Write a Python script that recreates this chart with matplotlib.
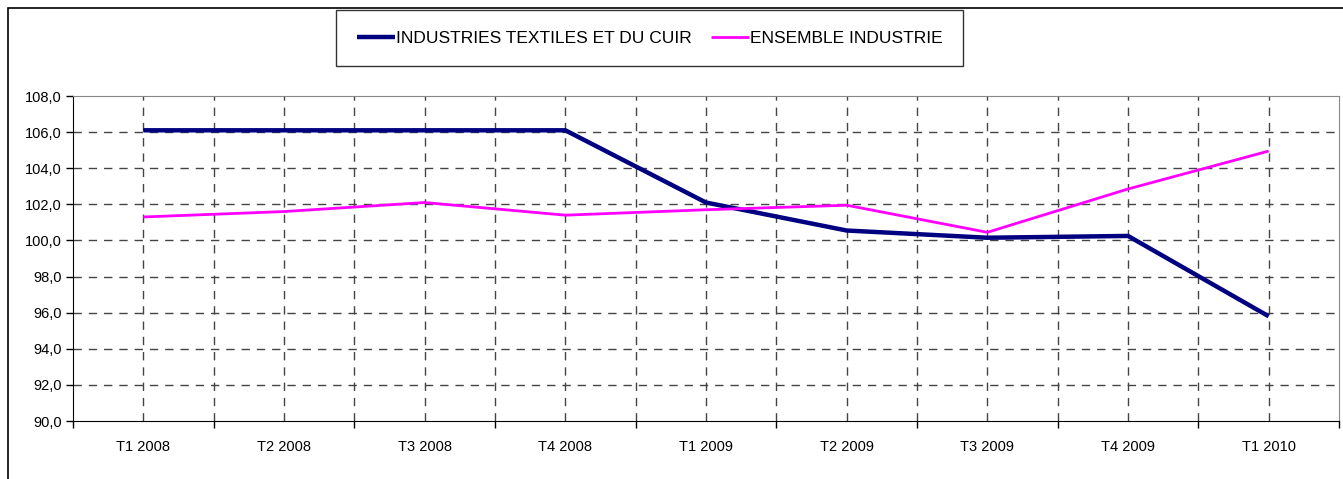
import matplotlib
matplotlib.use("Agg")
import matplotlib.pyplot as plt
from matplotlib.patches import Rectangle
from matplotlib.ticker import FixedLocator, FuncFormatter

categories = ["T1 2008", "T2 2008", "T3 2008", "T4 2008", "T1 2009",
              "T2 2009", "T3 2009", "T4 2009", "T1 2010"]
textile = [106.1, 106.1, 106.1, 106.1, 102.1, 100.55, 100.15, 100.25, 95.8]
ensemble = [101.3, 101.6, 102.1, 101.4, 101.7, 101.95, 100.45, 102.85, 104.95]

plt.rcParams['font.family'] = ['Liberation Sans', 'DejaVu Sans']

fig = plt.figure(figsize=(13.43, 4.79), dpi=100)
W, H = 1343, 479
ax = fig.add_axes([73 / W, 1 - 421 / H, (1339 - 73) / W, (421 - 96) / H])

x = list(range(len(categories)))
ax.plot(x, textile, color='#000080', lw=3.2, solid_capstyle='butt',
        label='INDUSTRIES TEXTILES ET DU CUIR', zorder=3)
ax.plot(x, ensemble, color='#FF00FF', lw=2.0, solid_capstyle='butt',
        label='ENSEMBLE INDUSTRIE', zorder=3)

ax.set_xlim(-0.5, len(categories) - 0.5)
ax.set_ylim(90, 108)
ax.set_yticks([90 + 2 * i for i in range(10)])
ax.yaxis.set_major_formatter(FuncFormatter(lambda v, p: f"{v:.1f}".replace('.', ',')))

# category labels at centres, tick marks at boundaries
ax.set_xticks(x)
ax.set_xticklabels(categories)
ax.xaxis.set_minor_locator(FixedLocator([i - 0.5 for i in range(len(categories) + 1)]))
ax.tick_params(axis='x', which='major', length=0, pad=14, labelsize=10.5)
ax.tick_params(axis='x', which='minor', length=5, width=1, color='black')
ax.tick_params(axis='y', length=5, width=1, labelsize=10.5, pad=3)

for v in [90 + 2 * i for i in range(1, 9)]:
    ax.axhline(v, color='#444444', lw=1, ls=(0, (6, 5)), zorder=1)
for i in range(len(categories)):
    ax.axvline(i, color='#444444', lw=1, ls=(0, (6, 5)), zorder=1)
    if i > 0:
        ax.axvline(i - 0.5, color='#444444', lw=1, ls=(0, (6, 5)), zorder=1)

ax.spines['left'].set_color('black')
ax.spines['bottom'].set_color('black')
ax.spines['top'].set_color('#888888')
ax.spines['right'].set_color('#888888')

leg = fig.legend(loc='center', bbox_to_anchor=((337 + 962) / 2 / W, 1 - 38 / H),
                 ncol=2, frameon=True, fancybox=False, edgecolor='black',
                 fontsize=12.5, handlelength=2.2, handletextpad=0.05,
                 columnspacing=1.1, borderpad=1.2, borderaxespad=0)
leg.get_frame().set_linewidth(1)

fig.patches.append(Rectangle((8 / W, -0.1), 1.2, 1.1 - 8 / H + 0.0,
                             transform=fig.transFigure, fill=False,
                             edgecolor='black', lw=1.2))

fig.savefig("out.png", dpi=100)
